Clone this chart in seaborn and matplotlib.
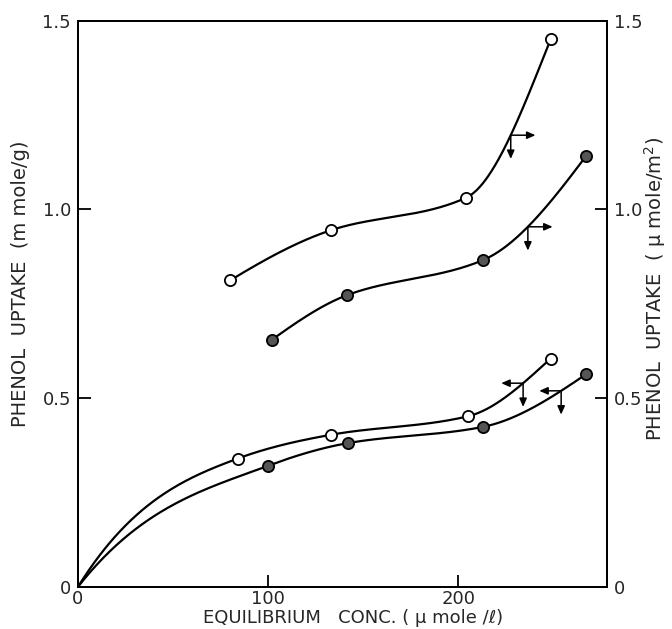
import numpy as np
import pandas as pd
import seaborn as sns
import matplotlib.pyplot as plt

# LEFT AXIS SERIES (m mole/g), CURVES START AT THE ORIGIN
conc_open_g = [0, 84, 133, 205, 248.5]
uptake_open_g = [0, 0.340, 0.403, 0.452, 0.605]
conc_fill_g = [0, 100, 142, 213, 267]
uptake_fill_g = [0, 0.321, 0.381, 0.424, 0.563]

# RIGHT AXIS SERIES (u mole/m2)
conc_open_m2 = [80, 133, 204, 248.5]
uptake_open_m2 = [0.812, 0.945, 1.031, 1.451]
conc_fill_m2 = [102, 141.5, 213, 267]
uptake_fill_m2 = [0.655, 0.773, 0.866, 1.141]

# WHERE THE AXIS ARROWS SIT ON EACH CURVE
arrow_conc_g = [234, 254]
arrow_conc_m2 = [227.5, 236.5]


def smooth(x, y, first_slope=None, n=120):
    # monotone cubic through the read points, only for drawing the line
    x = np.asarray(x, float)
    y = np.asarray(y, float)
    h = np.diff(x)
    d = np.diff(y) / h
    m = np.zeros_like(x)
    for i in range(1, len(x) - 1):
        if d[i - 1] * d[i] > 0:
            w1, w2 = 2 * h[i] + h[i - 1], h[i] + 2 * h[i - 1]
            m[i] = (w1 + w2) / (w1 / d[i - 1] + w2 / d[i])
    m[0] = ((2 * h[0] + h[1]) * d[0] - h[0] * d[1]) / (h[0] + h[1])
    m[-1] = ((2 * h[-1] + h[-2]) * d[-1] - h[-1] * d[-2]) / (h[-1] + h[-2])
    if first_slope is not None:
        m[0] = first_slope * d[0]
    xs, ys = [], []
    for i in range(len(h)):
        t = np.linspace(0, 1, n)
        h00 = 2 * t**3 - 3 * t**2 + 1
        h10 = t**3 - 2 * t**2 + t
        h01 = -2 * t**3 + 3 * t**2
        h11 = t**3 - t**2
        xs.append(x[i] + t * h[i])
        ys.append(h00 * y[i] + h10 * h[i] * m[i] + h01 * y[i + 1] + h11 * h[i] * m[i + 1])
    return pd.DataFrame({'conc': np.concatenate(xs), 'uptake': np.concatenate(ys)})


sns.set_style('ticks')
plt.rcParams['font.family'] = ['DejaVu Sans']
plt.rcParams['axes.linewidth'] = 1.4

fig = plt.figure(figsize=(6.72, 6.29), dpi=100)
ax = fig.add_axes([0.116, 0.067, 0.787, 0.9])
ax2 = ax.twinx()

curves = [
    (ax, conc_open_g, uptake_open_g, 'white', 2.0),
    (ax, conc_fill_g, uptake_fill_g, '#555555', 2.0),
    (ax2, conc_open_m2, uptake_open_m2, 'white', None),
    (ax2, conc_fill_m2, uptake_fill_m2, '#555555', None),
]
lines = []
for a, cx, cy, face, slope in curves:
    line = smooth(cx, cy, first_slope=slope)
    lines.append(line)
    sns.lineplot(data=line, x='conc', y='uptake', ax=a, color='black', lw=1.6,
                 sort=False, estimator=None)
    pts = pd.DataFrame({'conc': cx, 'uptake': cy}).query('conc > 0')
    sns.scatterplot(data=pts, x='conc', y='uptake', ax=a, s=65, color=face,
                    edgecolor='black', linewidth=1.3, zorder=5)

# ARROWS TELLING WHICH AXIS A CURVE BELONGS TO
akw = dict(arrowstyle='-|>,head_length=0.5,head_width=0.22', color='black', lw=1.1,
           shrinkA=0, shrinkB=0)
for a, line, x0, dx in [(ax, lines[0], arrow_conc_g[0], -11.5),
                        (ax, lines[1], arrow_conc_g[1], -11.5),
                        (ax2, lines[2], arrow_conc_m2[0], 13),
                        (ax2, lines[3], arrow_conc_m2[1], 13)]:
    y0 = np.interp(x0, line['conc'], line['uptake'])
    a.annotate('', xy=(x0 + dx, y0), xytext=(x0, y0), arrowprops=akw)
    a.annotate('', xy=(x0, y0 - 0.063), xytext=(x0, y0), arrowprops=akw)

for a in (ax, ax2):
    a.set_xlim(0, 278)
    a.set_ylim(0, 1.5)
    a.set_yticks([0, 0.5, 1.0, 1.5])
    a.set_yticklabels(['0', '0.5', '1.0', '1.5'])
    a.tick_params(direction='in', length=9, width=1.3, labelsize=13, pad=5, color='black')

ax.set_xticks([0, 100, 200])
ax.set_xticklabels(['0', '100', '200'])
ax.tick_params(axis='x', pad=2)
ax2.tick_params(axis='y', right=True, left=False)
for s in ax.spines.values():
    s.set_visible(True)
    s.set_color('black')
for s in ax2.spines.values():
    s.set_color('black')

ax.set_xlabel('EQUILIBRIUM   CONC. ( \u03bc mole /\u2113)', fontsize=13, labelpad=0)
ax.set_ylabel('PHENOL  UPTAKE  (m mole/g)', fontsize=14)
ax2.set_ylabel('PHENOL  UPTAKE  ( \u03bc mole/m$^2$)', fontsize=14)
ax.xaxis.set_label_coords(0.52, -0.039)
ax.yaxis.set_label_coords(-0.09, 0.536)
ax2.yaxis.set_label_coords(1.066, 0.526)

fig.savefig('out.png', dpi=100)
